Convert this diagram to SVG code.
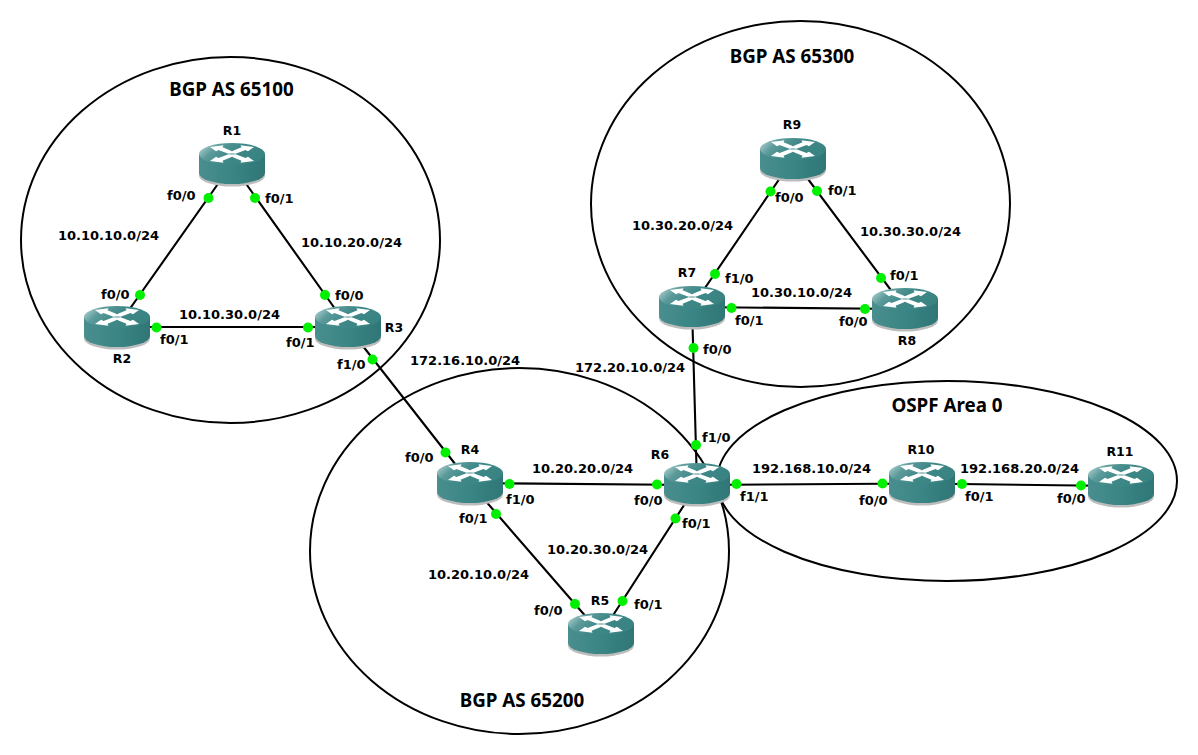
<svg xmlns="http://www.w3.org/2000/svg" width="1198" height="755" viewBox="0 0 1198 755">
<style>
text{font-family:"DejaVu Sans",sans-serif;font-weight:700;font-size:13px;fill:#000}
.t{font-family:"Noto Sans",sans-serif;font-size:18.8px;text-anchor:middle}
.n{text-anchor:middle;font-size:12.5px}
.a{fill:none;stroke:#000;stroke-width:2}
.l{stroke:#000;stroke-width:2.1;fill:none}
.d{fill:#00f000}
</style>
<defs>
<linearGradient id="top" x1="0" y1="0" x2="1" y2="0.35"><stop offset="0" stop-color="#c4dcdc"/><stop offset="0.3" stop-color="#5b9a9a"/><stop offset="0.6" stop-color="#3f8888"/><stop offset="1" stop-color="#3a8383"/></linearGradient>
<linearGradient id="side" x1="0" y1="0" x2="1" y2="0"><stop offset="0" stop-color="#4a8e8e"/><stop offset="0.5" stop-color="#3a8585"/><stop offset="1" stop-color="#307676"/></linearGradient>
<path id="arm" d="M-21.500-6-8-7.800-9-5.800-1-2.500 3 0-3 .8-13-3-15.500-1.800Z" fill="#fff"/>
<g id="router">
<path d="M-33-8V10A33 11 0 0 0 33 10V-8Z" fill="#bdbdbd" transform="translate(0,1.500)"/>
<path d="M-33-10V9A33 11 0 0 0 33 9V-10Z" fill="url(#side)"/>
<ellipse cy="-10" rx="33" ry="11" fill="url(#top)"/>
<g transform="translate(0,-10)">
<use href="#arm" transform="translate(-.5,-1)"/>
<use href="#arm" transform="translate(.5,-1) scale(-1,1)"/>
<use href="#arm" transform="translate(-.5,1) scale(1,-1)"/>
<use href="#arm" transform="translate(.5,1) scale(-1,-1)"/>
</g>
</g>
</defs>
<g id="areas">
<ellipse class="a" cx="230.500" cy="240" rx="209.500" ry="183"/>
<ellipse class="a" cx="800.500" cy="204" rx="209.500" ry="183"/>
<ellipse class="a" cx="519.500" cy="551" rx="209.500" ry="183"/>
<ellipse class="a" cx="947" cy="481" rx="230" ry="100"/>
<text class="t" x="231.500" y="96">BGP AS 65100</text>
<text class="t" x="792" y="63">BGP AS 65300</text>
<text class="t" x="522" y="707">BGP AS 65200</text>
<text class="t" x="947" y="412">OSPF Area 0</text>
</g>
<g id="connectors">
<path class="l" d="M232 164 117 327M232 164 348 327M117 327H348M348 327 470 483M470 483 697 485M470 483 601 634M601 634 697 485M697 485 692 307M692 307 793 159M793 159 905 309M692 307 905 309M697 485 922 483.500M922 483.500 1121 486"/>
</g>
<g id="R1"><use href="#router" x="232" y="164"/><text class="n" x="232" y="135">R1</text></g>
<g id="R2"><use href="#router" x="117" y="327"/><text class="n" x="122" y="363">R2</text></g>
<g id="R3"><use href="#router" x="348" y="327"/><text class="n" x="394" y="332">R3</text></g>
<g id="R4"><use href="#router" x="470" y="483"/><text class="n" x="470" y="454">R4</text></g>
<g id="R5"><use href="#router" x="601" y="634"/><text class="n" x="600" y="605">R5</text></g>
<g id="R6"><use href="#router" x="697" y="484"/><text class="n" x="660" y="459">R6</text></g>
<g id="R7"><use href="#router" x="692" y="307"/><text class="n" x="687" y="277">R7</text></g>
<g id="R8"><use href="#router" x="905" y="309"/><text class="n" x="907" y="345">R8</text></g>
<g id="R9"><use href="#router" x="793" y="159"/><text class="n" x="792" y="129">R9</text></g>
<g id="R10"><use href="#router" x="922" y="483"/><text class="n" x="921" y="454">R10</text></g>
<g id="R11"><use href="#router" x="1121" y="485"/><text class="n" x="1120" y="456">R11</text></g>
<g id="ports">
<g class="d">
<circle cx="208.500" cy="198" r="5"/><circle cx="255" cy="198" r="5"/><circle cx="140" cy="295" r="5"/><circle cx="325" cy="295" r="5"/><circle cx="156.500" cy="327.500" r="5"/><circle cx="308" cy="327.500" r="5"/><circle cx="372.500" cy="359.500" r="5"/><circle cx="445.500" cy="452.500" r="5"/><circle cx="509.500" cy="484" r="5"/><circle cx="657" cy="484.500" r="5"/><circle cx="496" cy="514" r="5"/><circle cx="575" cy="604" r="5"/><circle cx="622.500" cy="601" r="5"/><circle cx="675.500" cy="518.500" r="5"/><circle cx="696" cy="445" r="5"/><circle cx="693.500" cy="348" r="5"/><circle cx="715" cy="274" r="5"/><circle cx="770.500" cy="191.500" r="5"/><circle cx="817" cy="191" r="5"/><circle cx="881" cy="278" r="5"/><circle cx="731.500" cy="308" r="5"/><circle cx="865" cy="309" r="5"/><circle cx="736.500" cy="484" r="5"/><circle cx="882.500" cy="483.500" r="5"/><circle cx="962" cy="484" r="5"/><circle cx="1081" cy="485.500" r="5"/>
</g>
<text x="167" y="200">f0/0</text><text x="265" y="203">f0/1</text><text x="101" y="299">f0/0</text><text x="335" y="300">f0/0</text><text x="160" y="344">f0/1</text><text x="286" y="347">f0/1</text><text x="337" y="369">f1/0</text><text x="405" y="462">f0/0</text><text x="506" y="504">f1/0</text><text x="634" y="505">f0/0</text><text x="459" y="523">f0/1</text><text x="534" y="615">f0/0</text><text x="634" y="609">f0/1</text><text x="682" y="528">f0/1</text><text x="702" y="442">f1/0</text><text x="703" y="354">f0/0</text><text x="725" y="283">f1/0</text><text x="775" y="202">f0/0</text><text x="828" y="195">f0/1</text><text x="890" y="280">f0/1</text><text x="735" y="325">f0/1</text><text x="839" y="326">f0/0</text><text x="740" y="501">f1/1</text><text x="859" y="505">f0/0</text><text x="965" y="501">f0/1</text><text x="1057" y="503">f0/0</text>
</g>
<g id="subnets">
<text x="58" y="240">10.10.10.0/24</text><text x="301" y="247">10.10.20.0/24</text><text x="179" y="319">10.10.30.0/24</text><text x="410" y="365">172.16.10.0/24</text><text x="575" y="372">172.20.10.0/24</text><text x="632" y="230">10.30.20.0/24</text><text x="860" y="236">10.30.30.0/24</text><text x="751" y="297">10.30.10.0/24</text><text x="532" y="473">10.20.20.0/24</text><text x="547" y="554">10.20.30.0/24</text><text x="428" y="579">10.20.10.0/24</text><text x="752" y="473">192.168.10.0/24</text><text x="960" y="473">192.168.20.0/24</text>
</g>
</svg>
